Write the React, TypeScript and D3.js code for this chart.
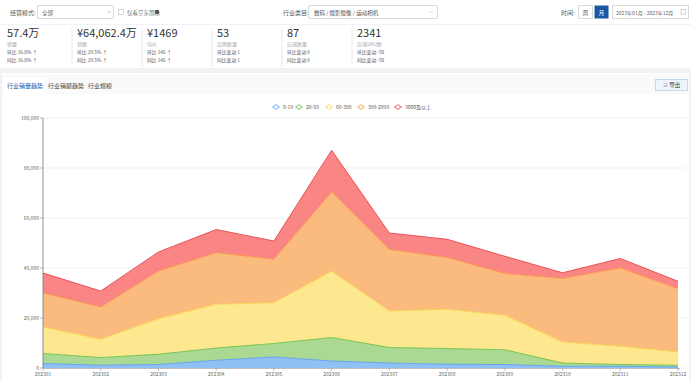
import React from "react";
import * as d3 from "d3";

const months = ["202301","202302","202303","202304","202305","202306","202307","202308","202309","202310","202311","202312"];
const seriesNames = ["0-19","20-59","60-398","399-2999","3000及以上"];
const s0_19 = [1800,1100,1400,3100,4400,2800,2000,1500,1400,700,700,400];
const s20_59 = [4000,3100,4100,4900,5400,9400,6200,6300,5900,1300,700,700];
const s60_398 = [10600,7300,14200,17500,16300,26500,14600,15700,13800,8400,7300,5300];
const s399_2999 = [13600,12900,19100,20600,17400,31700,24600,20700,16700,25400,31300,25300];
const s3000 = [8000,6400,7600,9300,7300,16700,6600,7300,6900,2300,3800,3000];
const yTicks = [0,20000,40000,60000,80000,100000];

const fills = ["#8fc1f5","#abd993","#fde88f","#fcbb7e","#f98585"];
const strokes = ["#5b9ff0","#6cbf4a","#f7d64a","#fa9a45","#e8474b"];

const kpis = [
  { v: "57.4万", l: "销量", a: "环比  16.8% ↑", b: "同比  16.8% ↑" },
  { v: "¥64,062.4万", l: "销额", a: "环比  29.5% ↑", b: "同比  29.5% ↑" },
  { v: "¥1469", l: "均价", a: "环比  146 ↑", b: "同比  146 ↑" },
  { v: "53", l: "品牌数量", a: "环比变动  1", b: "同比变动  1" },
  { v: "87", l: "店铺数量", a: "环比变动  6", b: "同比变动  6" },
  { v: "2341", l: "店铺SKU数", a: "环比变动  -58", b: "同比变动  -58" },
];

export default function App() {
  const W = 691, H = 381;
  const data = months.map((m, i) => ({
    m, a: s0_19[i], b: s20_59[i], c: s60_398[i], d: s399_2999[i], e: s3000[i],
  }));
  const keys = ["a","b","c","d","e"];
  const stacked = d3.stack<any>().keys(keys)(data);
  const x = d3.scalePoint().domain(months).range([43, 678]);
  const y = d3.scaleLinear().domain([0, 100000]).range([368, 118]);
  const area = d3.area<any>().x((d: any) => x(d.data.m)!).y0((d: any) => y(d[0])).y1((d: any) => y(d[1]));
  const line = d3.line<any>().x((d: any) => x(d.data.m)!).y((d: any) => y(d[1]));
  const fmt = d3.format(",");
  const font = "'Noto Sans CJK SC', 'Noto Sans', sans-serif";
  const legendX = [276, 299, 329, 361, 398];

  return (
    <svg width={W} height={H} style={{ position: "absolute", left: 0, top: 0, fontFamily: font }}>
      <rect x={0} y={0} width={W} height={H} fill="#f0f2f5" />
      <rect x={0} y={0} width={W} height={24} fill="#ffffff" />
      <rect x={0} y={25} width={W} height={43} fill="#ffffff" />
      <rect x={2} y={73} width={687} height={308} fill="#ffffff" />

      {/* filter bar */}
      <text x={10} y={14.5} fontSize={6} fill="#555">经营模式:</text>
      <rect x={37.5} y={5.5} width={76} height={13} fill="#fff" stroke="#d9d9d9" rx={1.5} />
      <text x={42} y={14.5} fontSize={5.5} fill="#555">全部</text>
      <path d="M107,11 l2,2 l2,-2" fill="none" stroke="#bbb" strokeWidth={0.7} />
      <rect x={118.5} y={9.5} width={5} height={5} fill="#fff" stroke="#bbb" strokeWidth={0.6} />
      <text x={127} y={14.5} fontSize={5.5} fill="#777">仅看京东国际</text>
      <circle cx={157} cy={12} r={2.3} fill="#555" />
      <text x={283} y={14.5} fontSize={6} fill="#555">行业类目:</text>
      <rect x={308.5} y={5.5} width={129} height={13} fill="#fff" stroke="#d9d9d9" rx={1.5} />
      <text x={314} y={14.5} fontSize={5.5} fill="#555">数码 / 摄影摄像 / 运动相机</text>
      <path d="M429,11 l2,2 l2,-2" fill="none" stroke="#ccc" strokeWidth={0.7} />
      <text x={561} y={14.5} fontSize={6} fill="#555">时间:</text>
      <rect x={578.5} y={5.5} width={14} height={13} fill="#fff" stroke="#d9d9d9" />
      <text x={585.5} y={14.5} fontSize={5.5} fill="#555" textAnchor="middle">周</text>
      <rect x={594.5} y={5.5} width={14} height={13} fill="#1c57a4" />
      <text x={601.5} y={14.5} fontSize={5.5} fill="#fff" textAnchor="middle">月</text>
      <rect x={612.5} y={5.5} width={76} height={13} fill="#fff" stroke="#d9d9d9" />
      <text x={616} y={14.5} fontSize={5} fill="#666">2023年01月 - 2023年12月</text>
      <rect x={681} y={9.5} width={4.5} height={4.5} fill="none" stroke="#bbb" strokeWidth={0.6} />

      {/* KPIs */}
      {kpis.map((k, i) => {
        const x0 = 7 + i * 70;
        return (
          <g key={i}>
            {i > 0 && <line x1={x0 - 5} x2={x0 - 5} y1={29} y2={66} stroke="#e8e8e8" />}
            <text x={x0} y={37} fontSize={11} fill="#333">{k.v}</text>
            <text x={x0} y={46} fontSize={5} fill="#aaa">{k.l}</text>
            <text x={x0} y={54} fontSize={4.8} fill="#555">{k.a}</text>
            <text x={x0} y={61.5} fontSize={4.8} fill="#555">{k.b}</text>
          </g>
        );
      })}

      {/* tabs */}
      <rect x={2} y={74} width={687} height={20} fill="#fafafa" />
      <rect x={3} y={78} width={41} height={16} fill="#ffffff" />
      <text x={7} y={88} fontSize={6} fill="#1c57a4">行业销量趋势</text>
      <text x={48} y={88} fontSize={6} fill="#444">行业销额趋势</text>
      <text x={88} y={88} fontSize={6} fill="#444">行业规模</text>
      <rect x={655.5} y={79.5} width={32} height={11} fill="#eef4fb" stroke="#c9d9ec" />
      <text x={671.5} y={87.3} fontSize={5.5} fill="#333" textAnchor="middle">≡ 导出</text>

      {/* legend */}
      {seriesNames.map((n, i) => (
        <g key={n}>
          <line x1={legendX[i] - 4} x2={legendX[i] + 4} y1={107} y2={107} stroke={strokes[i]} strokeWidth={0.8} />
          <circle cx={legendX[i]} cy={107} r={2.2} fill="#fff" stroke={strokes[i]} strokeWidth={0.8} />
          <text x={legendX[i] + 7} y={109} fontSize={5} fill="#555">{n}</text>
        </g>
      ))}

      {/* grid */}
      {yTicks.map((t) => (
        <g key={t}>
          <line x1={43} x2={686} y1={y(t)} y2={y(t)} stroke="#eeeeee" strokeWidth={0.8} />
          <line x1={40} x2={43} y1={y(t)} y2={y(t)} stroke="#888" strokeWidth={0.6} />
          <text x={39} y={y(t) + 1.8} fontSize={5} fill="#666" textAnchor="end">{fmt(t)}</text>
        </g>
      ))}

      {/* areas */}
      {stacked.map((s, i) => (
        <path key={"a" + i} d={area(s as any) || ""} fill={fills[i]} />
      ))}
      {stacked.map((s, i) => (
        <path key={"l" + i} d={line(s as any) || ""} fill="none" stroke={strokes[i]} strokeWidth={0.9} />
      ))}

      {/* axes */}
      <line x1={43} x2={43} y1={118} y2={368} stroke="#777" strokeWidth={0.8} />
      <line x1={43} x2={680} y1={368.5} y2={368.5} stroke="#999" strokeWidth={0.6} />
      {months.map((m) => (
        <g key={m}>
          <line x1={x(m)!} x2={x(m)!} y1={368} y2={371} stroke="#999" strokeWidth={0.6} />
          <text x={x(m)!} y={376} fontSize={5} fill="#666" textAnchor="middle">{m}</text>
        </g>
      ))}
    </svg>
  );
}
